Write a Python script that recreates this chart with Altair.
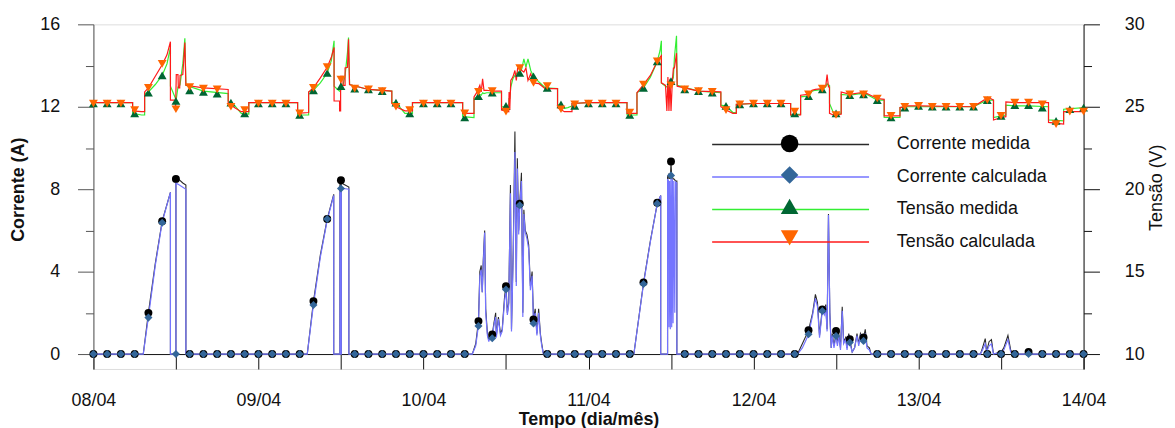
import json
import pandas as pd
import altair as alt

FONTE = "Liberation Sans"

# ---------------- texto / categorias ----------------
dias = ["08/04", "09/04", "10/04", "11/04", "12/04", "13/04", "14/04"]
series = ["Corrente medida", "Corrente calculada", "Tensão medida", "Tensão calculada"]
marcadores = ["marcador: corrente medida", "marcador: corrente calculada",
              "marcador: tensão medida", "marcador: tensão calculada"]
cores_linha = ["#2a2a2a", "#7474ff", "#33ee33", "#ff1a1a"]
cores_marcador = ["#000000", "#336699", "#006633", "#ff6600"]
formas = ["circle", "diamond", "triangle-up", "triangle-down"]

eixo_corrente = [0, 2, 4, 6, 8, 10, 12, 14, 16]
eixo_tensao = [10, 12.5, 15, 17.5, 20, 22.5, 25, 27.5, 30]
eixo_tempo = [0, 0.5, 1, 1.5, 2, 2.5, 3, 3.5, 4, 4.5, 5, 5.5, 6]

# ---------------- corrente (A): horas desde 08/04 00:00 ----------------
horas_i = [
    0, 7.25, 8.0, 9.0, 10.0, 11.2, 11.2, 12.0, 12.0, 12.5, 13.0, 13.45, 13.45,
    31.1, 32.0, 33.0, 34.0, 34.95, 34.95, 35.85, 35.85, 35.95, 35.95, 36.05, 36.05, 37.15, 37.15,
    55.1, 55.6, 56.0, 56.2, 56.4, 56.55, 56.7, 56.9, 57.05, 57.3, 57.5, 57.75, 58.0, 58.25, 58.5,
    58.6, 58.9, 59.2, 59.45, 59.8, 60.0, 60.2, 60.4, 60.65, 60.8, 61.05, 61.3, 61.5, 61.65, 61.85,
    62.0, 62.25, 62.45, 62.6, 62.8, 63.05, 63.3, 63.55, 63.8, 64.0, 64.25, 64.5, 64.75, 65.0, 65.2, 65.45,
    78.6, 80.0, 81.0, 82.0, 82.5, 82.5, 83.5, 83.5, 83.65, 83.7, 83.8, 83.9, 84.0, 84.1, 84.2, 84.3,
    84.4, 84.55, 84.65, 84.85, 84.85,
    102.4, 103.1, 104.0, 104.6, 105.0, 105.3, 105.6, 106.0, 106.3, 106.5, 106.7, 106.9, 107.1, 107.3,
    107.45, 107.7, 107.9, 108.0, 108.2, 108.4, 108.65, 108.9, 109.1, 109.4, 109.6, 109.85, 110.0,
    110.35, 110.7, 111.05, 111.3, 111.55, 111.8, 112.0, 112.25, 112.5, 112.85, 113.1,
    129.0, 129.3, 129.7, 129.9, 130.25, 130.6, 130.9, 132.0, 132.4, 133.0, 133.4, 133.8,
    144,
]
i_medida = [
    0, 0, 2.0, 4.4, 6.45, 7.85, 0, 0, 8.6, 8.45, 8.3, 8.2, 0,
    0, 2.55, 4.8, 6.55, 7.75, 0, 0, 8.4, 8.4, 0, 0, 8.3, 8.1, 0,
    0, 0.5, 1.6, 4.0, 4.3, 3.0, 4.6, 6.0, 2.2, 1.0, 0.7, 1.0, 0.95, 1.5, 2.0,
    0.9, 1.8, 1.0, 1.2, 2.8, 3.3, 2.0, 2.5, 8.2, 1.2, 5.0, 10.8, 3.5, 9.5, 6.0,
    7.3, 8.8, 2.0, 7.0, 6.0, 5.8, 5.3, 3.3, 4.0, 1.7, 2.2, 1.0, 2.2, 1.0, 0.5, 0,
    0, 3.45, 5.5, 7.3, 7.7, 0, 0, 8.6, 8.7, 8.5, 8.6, 8.5, 9.3, 8.6, 8.6, 8.5,
    8.5, 8.45, 8.4, 8.4, 0,
    0, 0.5, 1.15, 2.0, 2.9, 2.5, 0.9, 2.2, 2.0, 2.4, 1.2, 6.8, 2.0, 0.3,
    1.0, 0.4, 0.8, 1.1, 0.5, 1.0, 0.3, 2.3, 0.6, 0.8, 0.3, 1.0, 0.7,
    0.1, 0.3, 1.0, 0.5, 1.0, 0.8, 0.8, 1.2, 0.4, 0.3, 0,
    0, 0.3, 0.75, 0.1, 0.6, 0.7, 0.0, 0.1, 0.3, 0.9, 0.2, 0,
    0,
]
i_calculada = [
    0, 0, 1.8, 4.3, 6.4, 7.85, 0, 0, 8.3, 8.2, 8.1, 8.0, 0,
    0, 2.4, 4.7, 6.5, 7.7, 0, 0, 8.05, 8.05, 0, 0, 8.05, 8.0, 0,
    0, 0.4, 1.4, 3.8, 4.1, 3.0, 4.4, 5.9, 2.0, 0.9, 0.6, 0.9, 0.77, 1.4, 1.8,
    0.8, 1.7, 0.9, 1.1, 2.6, 3.1, 1.9, 2.4, 7.8, 1.1, 4.8, 9.8, 3.3, 9.0, 5.8,
    7.2, 8.4, 1.8, 6.8, 5.9, 5.6, 5.1, 3.1, 3.8, 1.5, 2.0, 0.9, 2.0, 0.9, 0.4, 0,
    0, 3.4, 5.45, 7.3, 7.7, 0, 0, 8.5, 8.4, 1.3, 8.4, 1.2, 8.7, 1.3, 8.5, 1.5,
    8.4, 2.0, 8.35, 8.3, 0,
    0, 0.3, 0.95, 1.9, 2.7, 2.3, 0.8, 2.1, 1.9, 2.3, 1.1, 6.75, 1.9, 0.3,
    0.9, 0.3, 0.7, 0.9, 0.4, 0.9, 0.2, 2.1, 0.5, 0.7, 0.2, 0.9, 0.55,
    0.1, 0.3, 0.9, 0.4, 0.9, 0.7, 0.65, 1.0, 0.3, 0.2, 0,
    0, 0.2, 0.5, 0.1, 0.4, 0.5, 0.0, 0.1, 0.2, 0.7, 0.1, 0,
    0,
]

# ---------------- tensão (V) ----------------
horas_v = [
    0, 5.7, 5.7, 7.0, 7.45, 7.45, 8.0, 9.0, 10.0, 10.7, 11.2, 11.2, 11.9, 11.95, 12.05,
    12.3, 12.35, 12.55, 12.6, 13.0, 13.3, 13.45, 16.0, 19.6, 19.6, 20.5, 21.5, 22.6, 22.6,
    24, 29.7, 29.7, 31.3, 31.3, 32.0, 33.0, 34.0, 34.6, 35.0, 35.0, 35.8, 35.8, 35.95, 35.95,
    36.3, 36.3, 36.6, 36.6, 36.95, 37.1, 37.25, 40.0, 43.4, 43.4, 44.0, 45.3, 46.4, 46.4,
    48, 53.7, 53.7, 55.35, 55.35, 55.8, 56.2, 56.4, 56.6, 56.8, 57.2, 58.0, 59.35, 59.35,
    60.4, 60.45, 60.55, 60.7, 61.0, 61.3, 61.5, 61.7, 62.0, 62.3, 62.6, 62.9, 63.2, 63.6,
    64.0, 64.8, 65.7, 67.5, 67.5, 68.5, 69.0, 69.6, 69.6,
    72, 77.6, 77.6, 79.05, 79.05, 80.0, 81.0, 82.0, 82.4, 82.6, 82.6, 83.2, 83.4, 83.55,
    83.7, 83.85, 84.0, 84.2, 84.35, 84.5, 84.8, 84.9, 88.0, 91.25, 91.25, 92.0, 93.0, 93.5, 93.5,
    96, 101.4, 101.4, 102.85, 102.85, 104.0, 104.5, 105.0, 106.0, 106.5, 106.7, 106.9, 107.05,
    107.05, 107.6, 108.75, 108.75, 110.0, 111.5, 112.5, 114.0, 115.0, 115.0, 117.3, 117.3, 118.5,
    120, 128.0, 129.5, 130.5, 130.9, 130.9, 132.0, 132.7, 132.7, 134.0, 136.0, 138.9, 138.9,
    141.1, 141.1, 144,
]
v_medida = [
    25.25, 25.25, 24.6, 24.5, 24.5, 25.8, 25.9, 26.35, 26.9, 27.6, 28.6, 26.25, 25.55, 25.4, 25.45,
    26.2, 26.2, 26.3, 26.35, 27.6, 29.15, 26.3, 25.95, 25.8, 25.35, 25.1, 24.6, 24.55, 25.25,
    25.25, 25.25, 24.5, 24.5, 25.9, 26.0, 26.45, 27.05, 27.8, 29.0, 26.25, 25.95, 25.95, 26.0, 26.25,
    26.3, 26.3, 26.9, 26.9, 28.3, 29.2, 26.35, 26.05, 25.95, 25.25, 25.25, 24.6, 24.6, 25.25,
    25.25, 25.25, 24.4, 24.35, 25.5, 25.6, 25.75, 25.7, 25.85, 25.8, 25.85, 25.85, 25.85, 25.0,
    25.0, 25.5, 25.5, 26.2, 26.7, 26.9, 27.0, 27.1, 27.05, 27.3, 27.9, 27.4, 27.9, 27.2,
    26.85, 26.5, 26.15, 26.1, 25.15, 24.9, 24.95, 25.05, 25.2,
    25.25, 25.25, 24.5, 24.5, 25.85, 26.15, 26.8, 27.75, 28.4, 29.0, 26.45, 26.25, 26.2, 26.3,
    25.5, 26.5, 26.55, 26.6, 26.8, 28.0, 29.3, 26.3, 25.95, 25.85, 25.1, 25.05, 24.65, 24.65, 25.15,
    25.2, 25.2, 24.5, 24.55, 25.6, 25.65, 25.95, 26.0, 26.05, 26.2, 26.4, 26.3, 26.3,
    25.2, 24.65, 24.6, 25.75, 25.7, 25.8, 25.75, 25.4, 25.4, 24.35, 24.35, 24.95, 25.0,
    25.0, 25.0, 25.3, 25.4, 25.4, 24.35, 24.45, 24.5, 25.1, 25.05, 25.05, 25.0, 24.2,
    24.15, 24.85, 24.95,
]
v_calculada = [
    25.25, 25.25, 24.75, 24.7, 24.7, 25.9, 26.15, 26.85, 27.55, 28.15, 28.95, 25.4, 25.4, 24.8, 26.95,
    26.95, 26.15, 26.15, 26.9, 26.95, 28.9, 26.3, 26.15, 26.05, 25.25, 24.95, 24.7, 24.7, 25.25,
    25.25, 25.25, 24.6, 24.65, 25.9, 26.15, 26.75, 27.4, 28.0, 28.6, 25.35, 25.35, 24.75, 24.75, 26.85,
    26.85, 26.3, 26.3, 27.35, 27.4, 29.1, 26.35, 26.05, 25.95, 25.2, 25.0, 24.75, 24.75, 25.25,
    25.25, 25.25, 24.6, 24.6, 25.6, 25.9, 26.3, 25.9, 26.7, 26.0, 26.0, 25.95, 25.95, 24.8,
    24.7, 25.9, 24.8, 26.6, 26.8, 27.2, 26.6, 27.35, 27.3, 27.2, 27.1, 27.35, 26.6, 27.0,
    26.45, 26.4, 26.1, 26.1, 24.95, 24.7, 24.7, 24.7, 25.2,
    25.25, 25.25, 24.6, 24.6, 25.85, 26.35, 26.9, 27.75, 28.0, 28.1, 26.45, 26.3, 24.75, 26.8,
    24.75, 26.7, 24.75, 26.6, 27.35, 27.35, 28.25, 26.25, 25.95, 25.9, 25.0, 24.8, 24.6, 24.6, 25.15,
    25.2, 25.2, 24.5, 24.5, 25.7, 25.75, 26.0, 26.05, 26.1, 26.25, 26.95, 26.2, 26.2,
    24.6, 24.5, 24.55, 25.9, 25.75, 25.85, 25.8, 25.5, 25.45, 24.45, 24.45, 24.95, 25.05,
    25.05, 25.0, 25.4, 25.5, 25.4, 24.2, 24.35, 24.4, 25.3, 25.25, 25.25, 25.25, 24.05,
    23.95, 24.7, 24.7,
]

# ---------------- marcadores (a cada 2 h) ----------------
horas_marc = list(range(0, 145, 2))
i_medida_marc = [
    0, 0, 0, 0, 2.0, 6.45, 8.5, 0, 0, 0, 0, 0,
    0, 0, 0, 0, 2.57, 6.55, 8.43, 0, 0, 0, 0, 0,
    0, 0, 0, 0, 1.6, 0.95, 3.29, 7.3, 1.68, 0, 0, 0,
    0, 0, 0, 0, 3.48, 7.34, 9.34, 0, 0, 0, 0, 0,
    0, 0, 0, 0, 1.16, 2.17, 1.12, 0.72, 0.8, 0, 0, 0,
    0, 0, 0, 0, 0, 0, 0, 0, 0.1, 0, 0, 0,
    0,
]
i_calculada_marc = [
    0, 0, 0, 0, 1.77, 6.37, 0, 0, 0, 0, 0, 0,
    0, 0, 0, 0, 2.38, 6.55, 8.03, 0, 0, 0, 0, 0,
    0, 0, 0, 0, 1.36, 0.77, 3.13, 7.22, 1.48, 0, 0, 0,
    0, 0, 0, 0, 3.4, 7.3, 8.67, 0, 0, 0, 0, 0,
    0, 0, 0, 0, 0.96, 2.09, 0.88, 0.56, 0.64, 0, 0, 0,
    0, 0, 0, 0, 0, 0, 0, 0, 0, 0, 0, 0,
    0,
]
v_medida_marc = [
    25.2, 25.2, 25.2, 24.6, 25.85, 26.9, 25.35, 26.0, 25.9, 25.8, 25.25, 24.6,
    25.2, 25.2, 25.2, 24.5, 26.0, 27.05, 26.25, 26.1, 26.05, 25.95, 25.25, 24.6,
    25.2, 25.2, 25.2, 24.35, 25.65, 25.85, 25.05, 27.05, 26.85, 26.15, 25.15, 25.05,
    25.2, 25.2, 25.2, 24.5, 26.15, 27.75, 26.55, 26.05, 25.95, 25.85, 25.05, 25.15,
    25.2, 25.2, 25.2, 24.6, 25.65, 26.05, 24.6, 25.7, 25.75, 25.4, 24.35, 24.95,
    25.05, 25.0, 25.0, 25.0, 25.0, 25.4, 24.45, 25.1, 25.1, 24.95, 24.15, 24.85,
    24.95,
]
v_calculada_marc = [
    25.2, 25.2, 25.2, 24.8, 26.15, 27.6, 24.85, 26.2, 26.1, 26.05, 25.0, 24.8,
    25.2, 25.2, 25.2, 24.6, 26.15, 27.4, 26.65, 26.1, 26.05, 25.95, 25.0, 24.8,
    25.2, 25.2, 25.2, 24.6, 25.9, 25.95, 24.7, 27.35, 26.45, 26.25, 24.85, 25.15,
    25.2, 25.2, 25.2, 24.65, 26.35, 27.75, 26.3, 26.05, 25.95, 25.9, 24.8, 25.15,
    25.2, 25.2, 25.2, 24.7, 25.75, 26.1, 24.5, 25.75, 25.75, 25.5, 24.45, 25.0,
    25.05, 25.0, 25.0, 25.0, 25.0, 25.4, 24.45, 25.25, 25.25, 25.15, 23.95, 24.7,
    24.7,
]

assert len(horas_i) == len(i_medida) == len(i_calculada), (len(horas_i), len(i_medida), len(i_calculada))
assert len(horas_v) == len(v_medida) == len(v_calculada), (len(horas_v), len(v_medida), len(v_calculada))
assert len(horas_marc) == len(i_medida_marc) == len(i_calculada_marc) == len(v_medida_marc) == len(v_calculada_marc)

# ---------------- geometria ----------------
W, H = 997, 347
DOM_I = [-0.7222, 16]
DOM_V = [9.0972, 30]


def quadro(horas, valores, nome, campo):
    return pd.DataFrame({
        "t": [h / 24 for h in horas],
        "valor": valores,
        campo: nome,
        "ordem": list(range(len(horas))),
    })


label_expr = "datum.value % 1 == 0 ? " + json.dumps(dias) + "[datum.value] : ''"

x_enc = alt.X(
    "t:Q",
    scale=alt.Scale(domain=[0, 6], nice=False, zero=False),
    axis=alt.Axis(
        values=eixo_tempo, labelExpr=label_expr, title="Tempo (dia/mês)",
        offset=-15, tickSize=15, labelPadding=23, titlePadding=1,
        grid=False, labelFlush=False, labelOverlap=False,
        domainColor="#111111", tickColor="#111111", labelColor="#111111", titleColor="#111111",
        labelFont=FONTE, titleFont=FONTE, labelFontSize=18, titleFontSize=18,
        titleFontWeight="bold", domainWidth=1, tickWidth=1,
    ),
)

eixo_esq = alt.Axis(
    orient="left", values=eixo_corrente, title="Corrente (A)",
    labelExpr="datum.value % 4 == 0 ? datum.label : ''",
    tickSize={"condition": {"test": "datum.value % 4 == 0", "value": 16}, "value": 8},
    labelPadding=18, titlePadding=12, titleY=166, grid=False,
    domainColor="#555555", tickColor="#555555", labelColor="#111111", titleColor="#111111",
    labelFont=FONTE, titleFont=FONTE, labelFontSize=18, titleFontSize=18, titleFontWeight="bold",
)

eixo_dir = alt.Axis(
    orient="right", values=eixo_tensao, title="Tensão (V)", titleAngle=270,
    labelExpr="datum.value % 5 == 0 ? datum.label : ''",
    tickSize={"condition": {"test": "datum.value % 5 == 0", "value": 16}, "value": 8},
    labelPadding=25, titlePadding=21, titleY=164, grid=False,
    domainColor="#111111", tickColor="#111111", labelColor="#111111", titleColor="#111111",
    labelFont=FONTE, titleFont=FONTE, labelFontSize=18, titleFontSize=18, titleFontWeight="normal",
)

# símbolo de linha longa (caminho SVG em unidades do símbolo)
SIMB = 313
linha_legenda = "M-8.93,0L8.93,0"

leg_linhas = alt.Legend(
    title=None, orient="none", legendX=692, legendY=111,
    symbolType=linha_legenda, symbolSize=SIMB, symbolStrokeWidth=1.4,
    labelFont=FONTE, labelFontSize=18, labelColor="#111111", labelOffset=97,
    rowPadding=13.7, padding=0, labelLimit=400,
)
leg_marc = alt.Legend(
    title=None, orient="none", legendX=692, legendY=111,
    symbolSize=SIMB, symbolStrokeWidth=0, symbolOpacity=1,
    labelFont=FONTE, labelFontSize=18, labelExpr="''",
    rowPadding=13.7, padding=0,
)

esc_linha = alt.Scale(domain=series, range=cores_linha)
esc_fill = alt.Scale(domain=marcadores, range=cores_marcador)
esc_forma = alt.Scale(domain=marcadores, range=formas)


def camada_linha(df, dom, eixo, largura):
    return alt.Chart(df).mark_line(strokeWidth=largura).encode(
        x=x_enc,
        y=alt.Y("valor:Q", scale=alt.Scale(domain=dom, nice=False, zero=False), axis=eixo),
        stroke=alt.Stroke("serie:N", scale=esc_linha, legend=leg_linhas),
        order=alt.Order("ordem:Q"),
    )


def camada_marc(df, dom, tamanho):
    return alt.Chart(df).mark_point(filled=True, opacity=1, size=tamanho, strokeWidth=0).encode(
        x=x_enc,
        y=alt.Y("valor:Q", scale=alt.Scale(domain=dom, nice=False, zero=False), axis=None),
        fill=alt.Fill("marcador:N", scale=esc_fill, legend=leg_marc),
        shape=alt.Shape("marcador:N", scale=esc_forma, legend=leg_marc),
    )


camadas = [
    camada_linha(quadro(horas_i, i_medida, series[0], "serie"), DOM_I, eixo_esq, 1.1),
    camada_linha(quadro(horas_i, i_calculada, series[1], "serie"), DOM_I, None, 1.2),
    camada_linha(quadro(horas_v, v_medida, series[2], "serie"), DOM_V, eixo_dir, 1.2),
    camada_linha(quadro(horas_v, v_calculada, series[3], "serie"), DOM_V, None, 1.2),
    camada_marc(quadro(horas_marc, i_medida_marc, marcadores[0], "marcador"), DOM_I, 64),
    camada_marc(quadro(horas_marc, i_calculada_marc, marcadores[1], "marcador"), DOM_I, 66),
    camada_marc(quadro(horas_marc, v_medida_marc, marcadores[2], "marcador"), DOM_V, 80),
    camada_marc(quadro(horas_marc, v_calculada_marc, marcadores[3], "marcador"), DOM_V, 80),
]

chart = (
    alt.layer(*camadas)
    .resolve_scale(y="independent")
    .properties(
        width=W, height=H,
        padding={"left": 86, "top": 15, "right": 84, "bottom": 58},
        autosize=alt.AutoSizeParams(type="none"),
        background="white",
    )
    .configure_view(stroke=None)
    .configure(font=FONTE)
)

chart.save("out.html", embed_options={"renderer": "svg", "actions": False})
